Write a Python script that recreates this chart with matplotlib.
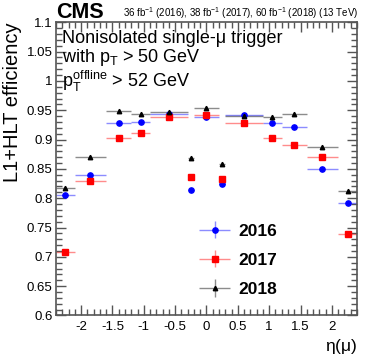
import numpy as np
import matplotlib
matplotlib.use("Agg")
import matplotlib.pyplot as plt
from matplotlib.ticker import MultipleLocator, FormatStrFormatter
from matplotlib.legend_handler import HandlerErrorbar

plt.rcParams['font.family'] = ['Liberation Sans', 'DejaVu Sans']
plt.rcParams['mathtext.fontset'] = 'custom'
plt.rcParams['mathtext.rm'] = 'Liberation Sans'
plt.rcParams['mathtext.it'] = 'Liberation Sans'

# eta bin edges
bin_edges = [-2.4, -2.1, -1.6, -1.2, -0.9, -0.3, -0.2, 0.2, 0.3, 0.9, 1.2, 1.6, 2.1, 2.4]

# efficiencies per bin
eff_2016 = [0.806, 0.839, 0.929, 0.930, 0.943, 0.814, 0.938, 0.8235, 0.9425, 0.928, 0.922, 0.850, 0.791]
eff_2017 = [0.7075, 0.829, 0.9026, 0.912, 0.939, 0.8365, 0.9418, 0.833, 0.929, 0.903, 0.890, 0.8707, 0.7387]
eff_2018 = [0.817, 0.870, 0.9486, 0.943, 0.9475, 0.868, 0.9538, 0.858, 0.941, 0.938, 0.943, 0.887, 0.8116]
eff_err = 0.001

years = ["2016", "2017", "2018"]
colors = ["#0000ff", "#ff0000", "#000000"]
markers = ["o", "s", "^"]
msizes = [3.8, 3.8, 3.2]

edges = np.array(bin_edges)
centers = 0.5 * (edges[1:] + edges[:-1])
half_w = 0.5 * (edges[1:] - edges[:-1])

fig = plt.figure(figsize=(3.74, 3.63), dpi=100)
ax = fig.add_axes([0.1497, 0.1309, 0.8048, 0.8077])

handles = []
for vals, year, c, m, ms in zip([eff_2016, eff_2017, eff_2018], years, colors, markers, msizes):
    h = ax.errorbar(centers, vals, xerr=half_w, yerr=eff_err, fmt=m, color=c,
                    ms=ms, ecolor=c, elinewidth=1.0, capsize=0, label=year)
    for lc in h[2]:
        lc.set_alpha(0.45)
    handles.append(h)

ax.set_xlim(-2.4, 2.4)
ax.set_ylim(0.6, 1.1)

ax.xaxis.set_major_locator(MultipleLocator(0.5))
ax.xaxis.set_minor_locator(MultipleLocator(0.1))
ax.yaxis.set_major_locator(MultipleLocator(0.05))
ax.yaxis.set_minor_locator(MultipleLocator(0.01))
ax.xaxis.set_major_formatter(FormatStrFormatter('%g'))
ax.yaxis.set_major_formatter(FormatStrFormatter('%g'))
ax.tick_params(which='both', direction='in', top=True, right=True, labelsize=9.5,
               color='#555555')
ax.tick_params(which='major', length=7.5, width=1)
ax.tick_params(which='minor', length=4.2, width=1)
ax.tick_params(axis='x', pad=4)
ax.tick_params(axis='y', pad=2.5)
for sp in ax.spines.values():
    sp.set_color('#555555')
    sp.set_linewidth(1.2)

ax.set_ylabel("L1+HLT efficiency", fontsize=14.5, loc='top')
ax.yaxis.set_label_coords(-0.112, 1.0)
ax.set_xlabel(r"$\eta(\mu)$", fontsize=12.5, loc='right')
ax.xaxis.set_label_coords(1.0, -0.075)
ax.xaxis.label.set_va('top')

ax.text(0.02, 0.972, "Nonisolated single-\u03bc trigger\nwith $p_{T}$ > 50 GeV\n$p_{T}^{offline}$ > 52 GeV",
        transform=ax.transAxes, ha='left', va='top', fontsize=13, linespacing=1.0)

fig.text(0.1497, 0.965, "CMS", fontsize=15.5, fontweight='bold', ha='left', va='center')
fig.text(0.958, 0.963, "36 fb$^{-1}$ (2016), 38 fb$^{-1}$ (2017), 60 fb$^{-1}$ (2018) (13 TeV)",
         fontsize=7.0, ha='right', va='center')

leg = ax.legend(handles=handles, labels=years, loc='lower left', bbox_to_anchor=(0.42, 0.01),
                frameon=False, prop={'weight': 'bold', 'size': 12.5}, handlelength=1.9,
                labelspacing=0.8, handletextpad=0.45,
                handler_map={type(handles[0]): HandlerErrorbar(xerr_size=0.92, yerr_size=0.5)})

fig.savefig("out.png", dpi=100)
